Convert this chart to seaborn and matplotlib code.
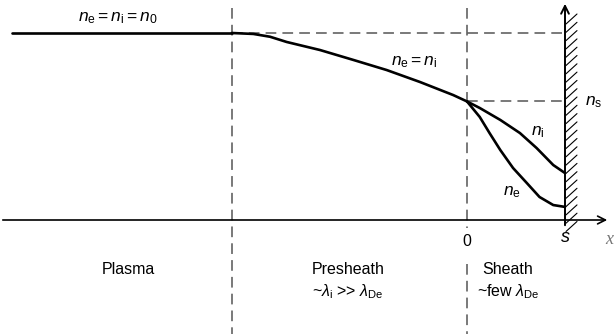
import numpy as np
import matplotlib
matplotlib.use("Agg")
import matplotlib.pyplot as plt
import seaborn as sns

# density profile (x: sheath edge = 0, wall = s = 1; n: n/n0)
plasma_x = [-4.64, -2.40]
plasma_n = [1.0, 1.0]
presheath_x = [-2.40, -2.18, -2.01, -1.84, -1.50, -1.16, -0.82, -0.48, -0.14, 0.0]
presheath_n = [1.0, 0.995, 0.98, 0.952, 0.909, 0.856, 0.802, 0.738, 0.668, 0.634]
sheath_x_i = [0.0, 0.13, 0.34, 0.54, 0.71, 0.88, 1.0]
sheath_ni = [0.634, 0.599, 0.535, 0.465, 0.385, 0.294, 0.251]
sheath_x_e = [0.0, 0.13, 0.23, 0.34, 0.47, 0.61, 0.74, 0.88, 1.0]
sheath_ne = [0.634, 0.551, 0.465, 0.374, 0.278, 0.198, 0.123, 0.080, 0.070]

x_presheath = -2.40   # plasma / presheath boundary
x_sheath = 0.0        # sheath edge
x_wall = 1.0          # wall position s
n_s = 0.634
regions = ["Plasma", "Presheath", "Sheath"]
region_notes = ["", r"~$\lambda_{\rm i}$ >> $\lambda_{\rm De}$", r"~few $\lambda_{\rm De}$"]

sns.set_style("white")
plt.rcParams["font.family"] = ["Liberation Sans", "DejaVu Sans"]
plt.rcParams["text.color"] = "black"
plt.rcParams["mathtext.fontset"] = "custom"
plt.rcParams["mathtext.rm"] = "Liberation Sans"
plt.rcParams["mathtext.it"] = "Liberation Sans:italic"

# pixel-like mapping: 98 px per unit in x, 187 px per unit in n, axis at 220 px
def px(xp, yp):
    return (xp - 467) / 98.0, (220 - yp) / 187.0

fig = plt.figure(figsize=(6.16, 3.34), dpi=100)
ax = fig.add_axes([0, 0, 1, 1])
x0, y0 = px(0, 334)
x1, y1 = px(616, 0)
ax.set_xlim(x0, x1)
ax.set_ylim(y0, y1)
ax.axis("off")

dash = dict(color="#555555", lw=1.1, ls=(0, (7, 4)))
# vertical region boundaries
ax.plot([x_presheath, x_presheath], [px(0, 8)[1], px(0, 334)[1]], **dash)
ax.plot([x_sheath, x_sheath], [px(0, 8)[1], px(0, 228)[1]], **dash)
ax.plot([x_sheath, x_sheath], [px(0, 264)[1], px(0, 334)[1]], **dash)
# horizontal guides
ax.plot([x_presheath, x_wall], [1.0, 1.0], **dash)
ax.plot([x_sheath, x_wall], [n_s, n_s], **dash)

# axes arrows
ax.annotate("", xy=(px(610, 0)[0], 0), xytext=(px(0, 0)[0], 0),
            arrowprops=dict(arrowstyle="->", lw=1.2, color="black", mutation_scale=14))
ax.annotate("", xy=(x_wall, px(0, 1)[1]), xytext=(x_wall, px(0, 228)[1]),
            arrowprops=dict(arrowstyle="->", lw=1.4, color="black", mutation_scale=14))

# wall hatching
for yp in np.arange(24, 232, 8.3):
    xa, ya = px(566, yp)
    xb, yb = px(577, yp - 10)
    ax.plot([xa, xb], [ya, yb], color="black", lw=0.8)

lw = 1.9
for xs, ns in [(plasma_x, plasma_n), (presheath_x, presheath_n),
               (sheath_x_i, sheath_ni), (sheath_x_e, sheath_ne)]:
    sns.lineplot(x=xs, y=ns, ax=ax, color="black", lw=lw, sort=False)

fs = 11.5
def label(xp, yp, s, **kw):
    kw.setdefault("fontsize", fs)
    ax.text(*px(xp, yp), s, ha="center", va="center", **kw)

label(118, 18, r"$n_{\rm e} = n_{\rm i} = n_0$", fontsize=12.5)
label(414, 62, r"$n_{\rm e} = n_{\rm i}$", fontsize=12.5)
label(594, 102, r"$n_{\rm s}$", fontsize=12.5)
label(538, 132, r"$n_{\rm i}$", fontsize=12.5)
label(512, 192, r"$n_{\rm e}$", fontsize=12.5)
label(467, 241, "0")
label(565, 238, "s", fontsize=13, style="italic")
label(609, 240, "x", fontsize=13, style="italic", color="#777777",
      family=["Liberation Serif", "DejaVu Serif"])

centers = [128, 348, 508]
for xc, name, note in zip(centers, regions, region_notes):
    label(xc, 270, name)
    if note:
        label(xc, 292, note)

fig.savefig("out.png", dpi=100)
